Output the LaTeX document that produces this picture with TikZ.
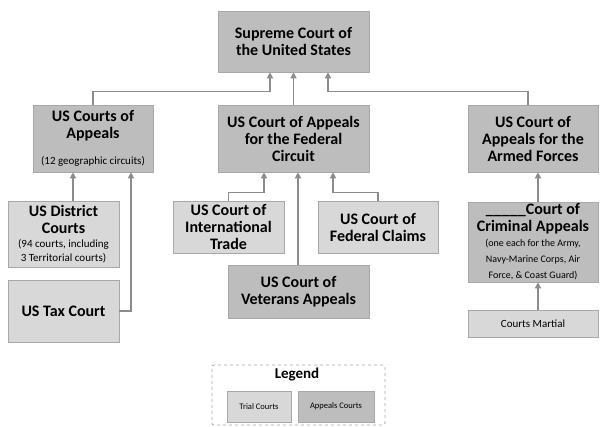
\documentclass[tikz,border=0pt]{standalone}
\usepackage{fontspec}
\setmainfont{Carlito}
\usetikzlibrary{arrows.meta}
\definecolor{appc}{HTML}{BDBDBD}
\definecolor{trialc}{HTML}{D8D8D8}
\definecolor{linec}{HTML}{8C8C8C}
\definecolor{edgec}{HTML}{A8A8A8}
\tikzset{
  box/.style={draw=edgec, line width=0.6pt, align=center, inner sep=1pt,
    font=\fontsize{16}{17}\selectfont\bfseries},
  appbox/.style={box, fill=appc},
  trialbox/.style={box, fill=trialc},
  conn/.style={draw=linec, line width=1.4pt, -{Triangle[width=6pt,length=6pt]}}
}
\newcommand{\sm}[1]{{\fontsize{11}{14}\selectfont\mdseries #1}}
\newcommand{\smb}[1]{{\fontsize{10}{13}\selectfont\mdseries #1}}
\begin{document}
\begin{tikzpicture}[x=1pt,y=-1pt]
\useasboundingbox (0,0) rectangle (602,426);
\fill[white] (0,0) rectangle (602,426);

\node[appbox, minimum width=151, minimum height=61] (sup) at (293.5,41.5) {Supreme Court of\\the United States};

\node[appbox, minimum width=120, minimum height=67] (usca) at (93,138.5) {US Courts of\\Appeals\\[9pt]\sm{(12 geographic circuits)}};
\node[appbox, minimum width=151, minimum height=67] (fc) at (293.5,138.5) {US Court of Appeals\\for the Federal\\Circuit};
\node[appbox, minimum width=130, minimum height=67] (armed) at (533,138.5) {US Court of\\Appeals for the\\Armed Forces};

\node[trialbox, minimum width=111, minimum height=66] (dist) at (63.5,234) {US District\\Courts\\[-3pt]\sm{(94 courts, including}\\[-3pt]\sm{3 Territorial courts)}};
\node[trialbox, minimum width=111, minimum height=62] (tax) at (63.5,311) {US Tax Court};

\node[trialbox, minimum width=111, minimum height=52] (intl) at (228.5,227) {US Court of\\International\\Trade};
\node[trialbox, minimum width=120, minimum height=52] (claims) at (378,227) {US Court of\\Federal Claims};
\node[appbox, minimum width=141, minimum height=53] (vet) at (298.5,291.5) {US Court of\\Veterans Appeals};

\node[appbox, minimum width=130, minimum height=80] (crim) at (533,242) {\_\_\_\_\_Court of\\Criminal Appeals\\[-2pt]\smb{(one each for the Army,}\\[-1pt]\smb{Navy-Marine Corps, Air}\\[-1pt]\smb{Force, \& Coast Guard)}};
\node[trialbox, minimum width=130, minimum height=27, font=\fontsize{11}{12}\selectfont] (mart) at (533,323.5) {Courts Martial};

% connectors
\draw[conn] (usca.north) -- ++(0,-13) -| ([xshift=-23.5pt]sup.south);
\draw[conn] (fc.north) -- (sup.south);
\draw[conn] ([xshift=-5pt]armed.north) -- ++(0,-13) -| ([xshift=34.5pt]sup.south);

\draw[conn] ([xshift=9.5pt]dist.north) -- ([xshift=-20pt]usca.south);
\draw[conn] (tax.east) -| ([xshift=38pt]usca.south);

\draw[conn] (intl.north) -- ++(0,-8) -| ([xshift=-29.5pt]fc.south);
\draw[conn] (claims.north) -- ++(0,-8) -| ([xshift=39.5pt]fc.south);
\draw[conn] ([xshift=-0.5pt]vet.north) -- ([xshift=4.5pt]fc.south);

\draw[conn] ([xshift=5pt]crim.north) -- ([xshift=5pt]armed.south);
\draw[conn] ([xshift=5pt]mart.north) -- ([xshift=5pt]crim.south);

% legend
\node[draw=edgec, dashed, line width=0.8pt, rounded corners=2pt, minimum width=173, minimum height=60] (legend) at (298.5,395) {};
\node[font=\fontsize{15}{16}\selectfont\bfseries, inner sep=0pt] (legt) at (297,375) {Legend};
\node[trialbox, minimum width=64, minimum height=31, font=\fontsize{8.5}{9}\selectfont] (lt) at (259,406.5) {Trial Courts};
\node[appbox, minimum width=76, minimum height=31, font=\fontsize{8.5}{9}\selectfont] (la) at (336,406.5) {Appeals Courts};
\end{tikzpicture}
\end{document}
